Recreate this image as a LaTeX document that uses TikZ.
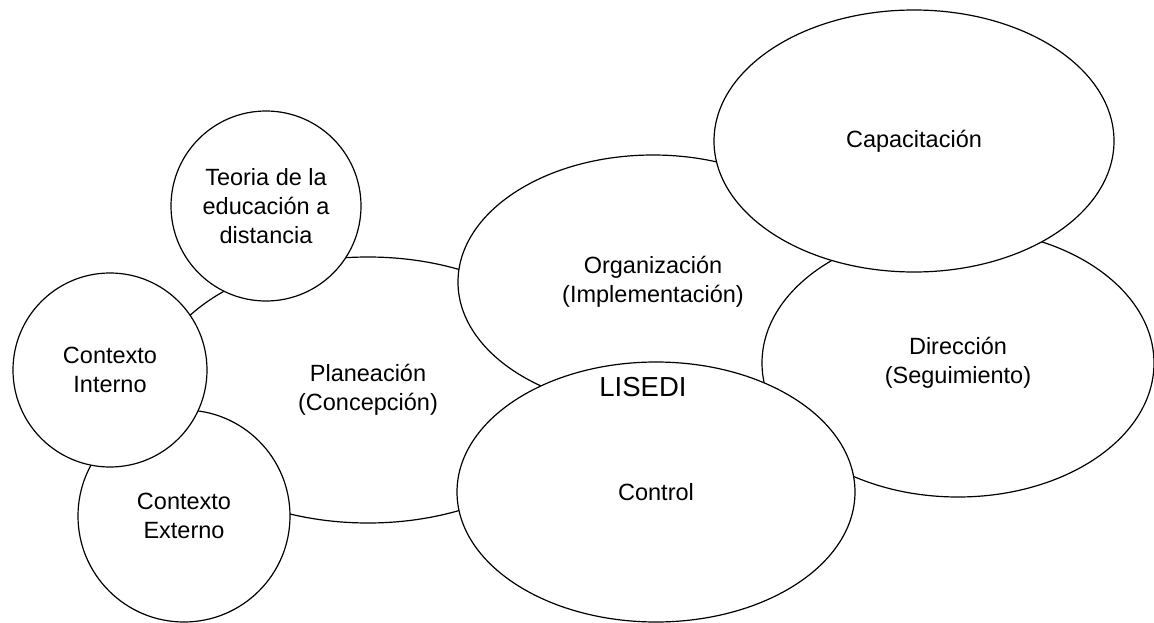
\documentclass[tikz,border=0pt]{standalone}
\usepackage{fontspec}
\setmainfont{Liberation Sans}
\usetikzlibrary{shapes.geometric}

\begin{document}
\begin{tikzpicture}[
    x=1pt, y=-1pt,
    bubble/.style={ellipse, draw=black, fill=white, line width=1.2pt, inner sep=0pt, align=center, font=\fontsize{23.5}{29}\selectfont},
    roundbubble/.style={bubble, circle},
    ]
    \useasboundingbox (0,0) rectangle (1154,623);
    %Nodes
    \node[bubble, minimum width=430pt, minimum height=266pt]    (plan)    at (368,390) {Planeación\\(Concepción)};
    \node[roundbubble, minimum size=212pt]                      (externo) at (184,516) {Contexto\\Externo};
    \node[roundbubble, minimum size=194pt]                      (interno) at (110,370) {Contexto\\Interno};
    \node[roundbubble, minimum size=190pt]                      (teoria)  at (266,206) {Teoria de la\\educación a\\distancia};
    \node[bubble, minimum width=390pt, minimum height=254pt]    (org)     at (653,282) {Organización\\(Implementación)};
    \node[bubble, minimum width=392pt, minimum height=268pt]    (dir)     at (958,363) {Dirección\\(Seguimiento)};
    \node[bubble, minimum width=400pt, minimum height=262pt]    (cap)     at (914,141) {Capacitación};
    \node[bubble, minimum width=398pt, minimum height=260pt]    (ctrl)    at (656,492) {Control};
    \node[font=\fontsize{27.5}{32}\selectfont]                  (lisedi)  at (643,387) {LISEDI};
\end{tikzpicture}
\end{document}
